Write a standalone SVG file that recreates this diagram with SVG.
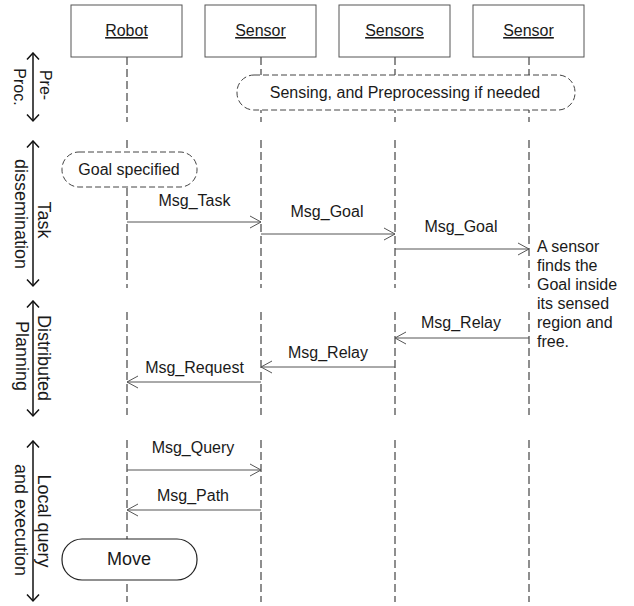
<svg xmlns="http://www.w3.org/2000/svg" width="634" height="606" viewBox="0 0 634 606">
<style>
text{font-family:"Liberation Sans",Arial,sans-serif;fill:#1a1a1a;font-size:16px}
.hdr rect{fill:#fff;stroke:#555;stroke-width:1}
.hdr text{text-anchor:middle;text-decoration:underline}
.life{stroke:#444;stroke-width:1.2;stroke-dasharray:8 4;fill:none}
.msg{stroke:#555;stroke-width:1;fill:none}
.lbl{text-anchor:middle}
.state{fill:#fff;stroke:#444;stroke-width:1;stroke-dasharray:6 3}
.phase{stroke:#111;stroke-width:1.5;fill:none}
.vt{text-anchor:middle;font-size:18px}
</style>
<defs>
<marker id="open" viewBox="0 0 12 14" refX="11" refY="7" markerWidth="12" markerHeight="14" markerUnits="userSpaceOnUse" orient="auto">
<path d="M0,1 L11,7 L0,13" fill="none" stroke="#555" stroke-width="1"/>
</marker>
<marker id="ph" viewBox="0 0 9 14" refX="7.5" refY="7" markerWidth="9" markerHeight="14" markerUnits="userSpaceOnUse" orient="auto-start-reverse">
<path d="M1,1 L7.5,7 L1,13" fill="none" stroke="#111" stroke-width="1.5"/>
</marker>
</defs>

<g id="lifelines">
<path class="life" d="M127,57 V122 M127,140 V288 M127,312 V415 M127,440 V602"/>
<path class="life" d="M261,57 V122 M261,140 V288 M261,312 V415 M261,440 V602"/>
<path class="life" d="M395,57 V122 M395,140 V288 M395,312 V415 M395,440 V602"/>
<path class="life" d="M529,57 V122 M529,140 V288 M529,312 V415 M529,440 V602"/>
</g>

<g id="robot" class="hdr"><rect x="71" y="5" width="111" height="52"/><text x="126.5" y="36">Robot</text></g>
<g id="sensor1" class="hdr"><rect x="205" y="5" width="111" height="52"/><text x="260.5" y="36">Sensor</text></g>
<g id="sensors" class="hdr"><rect x="339" y="5" width="111" height="52"/><text x="394.5" y="36">Sensors</text></g>
<g id="sensor2" class="hdr"><rect x="473" y="5" width="111" height="52"/><text x="528.5" y="36">Sensor</text></g>

<g id="sensing"><rect class="state" x="237" y="75" width="338" height="35" rx="17" ry="17"/><text class="lbl" x="405" y="98">Sensing, and Preprocessing if needed</text></g>
<g id="goal"><rect class="state" x="62" y="152" width="135" height="35" rx="17" ry="17"/><text class="lbl" x="129" y="175">Goal specified</text></g>
<g id="move"><rect x="62" y="539" width="135" height="41" rx="20" ry="20" fill="#fff" stroke="#222" stroke-width="1.2"/><text class="lbl" x="129" y="565" style="font-size:18px">Move</text></g>

<g id="note"><text x="537" y="252">A sensor</text><text x="537" y="271">finds the</text><text x="537" y="290">Goal inside</text><text x="537" y="309">its sensed</text><text x="537" y="328">region and</text><text x="537" y="347">free.</text></g>

<g id="connectors">
<line class="msg" x1="127" y1="222" x2="261" y2="222" marker-end="url(#open)"/>
<line class="msg" x1="261" y1="234" x2="395" y2="234" marker-end="url(#open)"/>
<line class="msg" x1="395" y1="249" x2="529" y2="249" marker-end="url(#open)"/>
<line class="msg" x1="529" y1="338" x2="395" y2="338" marker-end="url(#open)"/>
<line class="msg" x1="395" y1="367" x2="261" y2="367" marker-end="url(#open)"/>
<line class="msg" x1="261" y1="382" x2="127" y2="382" marker-end="url(#open)"/>
<line class="msg" x1="127" y1="470" x2="261" y2="470" marker-end="url(#open)"/>
<line class="msg" x1="261" y1="510" x2="127" y2="510" marker-end="url(#open)"/>
<text class="lbl" x="194.5" y="206">Msg_Task</text>
<text class="lbl" x="327" y="217">Msg_Goal</text>
<text class="lbl" x="461" y="232">Msg_Goal</text>
<text class="lbl" x="461" y="328">Msg_Relay</text>
<text class="lbl" x="328" y="358">Msg_Relay</text>
<text class="lbl" x="194.5" y="373">Msg_Request</text>
<text class="lbl" x="193" y="453">Msg_Query</text>
<text class="lbl" x="193" y="501">Msg_Path</text>
</g>

<g id="phase-preproc">
<line class="phase" x1="33" y1="53" x2="33" y2="121" marker-start="url(#ph)" marker-end="url(#ph)"/>
<g transform="translate(40,85) rotate(90)"><text class="vt" style="font-size:16px">Pre-</text></g>
<g transform="translate(14,87) rotate(90)"><text class="vt" style="font-size:16px">Proc.</text></g>
</g>
<g id="phase-task">
<line class="phase" x1="33" y1="141" x2="33" y2="286" marker-start="url(#ph)" marker-end="url(#ph)"/>
<g transform="translate(38,220) rotate(90)"><text class="vt">Task</text></g>
<g transform="translate(15,214) rotate(90)"><text class="vt">dissemination</text></g>
</g>
<g id="phase-planning">
<line class="phase" x1="33" y1="301" x2="33" y2="416" marker-start="url(#ph)" marker-end="url(#ph)"/>
<g transform="translate(38,358) rotate(90)"><text class="vt">Distributed</text></g>
<g transform="translate(16,356) rotate(90)"><text class="vt">Planning</text></g>
</g>
<g id="phase-local">
<line class="phase" x1="33" y1="441" x2="33" y2="601" marker-start="url(#ph)" marker-end="url(#ph)"/>
<g transform="translate(38,521) rotate(90)"><text class="vt">Local query</text></g>
<g transform="translate(15,520) rotate(90)"><text class="vt">and execution</text></g>
</g>
</svg>
